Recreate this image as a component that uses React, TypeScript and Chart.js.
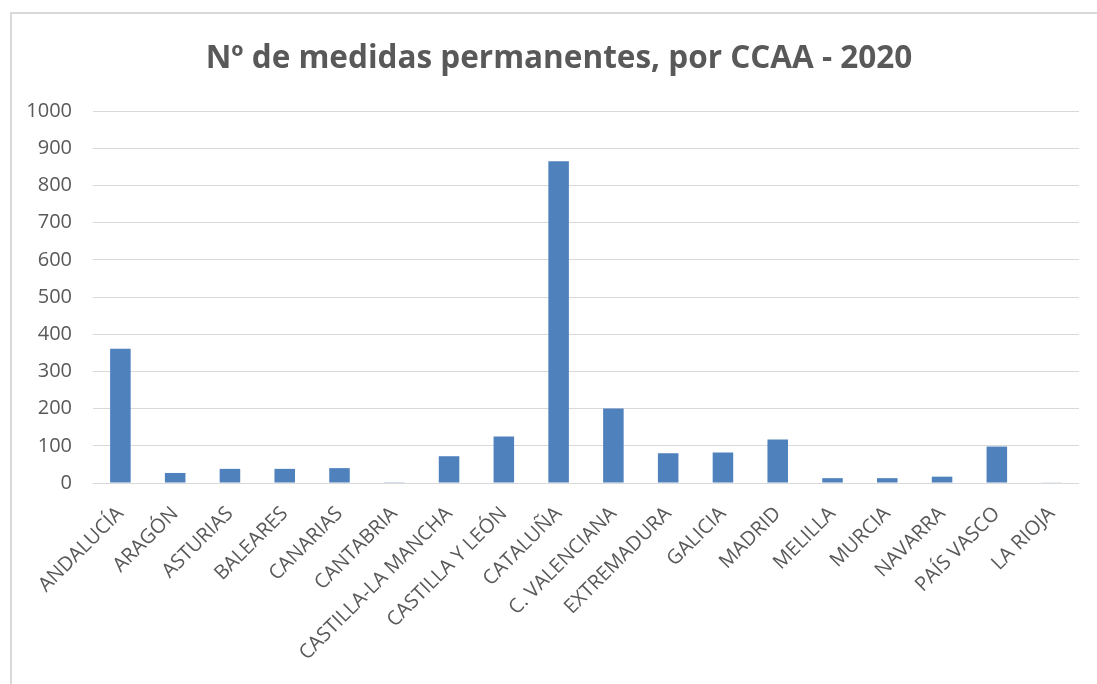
import React, { useEffect, useRef } from "react";
import { Chart, registerables } from "chart.js";

Chart.register(...registerables);

const categories: string[] = [
  "ANDALUCÍA",
  "ARAGÓN",
  "ASTURIAS",
  "BALEARES",
  "CANARIAS",
  "CANTABRIA",
  "CASTILLA-LA MANCHA",
  "CASTILLA Y LEÓN",
  "CATALUÑA",
  "C. VALENCIANA",
  "EXTREMADURA",
  "GALICIA",
  "MADRID",
  "MELILLA",
  "MURCIA",
  "NAVARRA",
  "PAÍS VASCO",
  "LA RIOJA",
];

const medidas: number[] = [361, 27, 38, 38, 40, 2, 72, 125, 865, 200, 80, 82, 117, 13, 13, 17, 98, 1];

const titleText = "Nº de medidas permanentes, por CCAA - 2020";
const yMin = 0;
const yMax = 1000;
const yStep = 100;

const FONT = "'Open Sans', 'DejaVu Sans', sans-serif";
const TEXT = "#595959";
const GRID = "#d9d9d9";
const BAR = "#4f81bd";

const titlePlugin = {
  id: "offsetTitle",
  afterDraw(chart: any) {
    const ctx = chart.ctx as CanvasRenderingContext2D;
    ctx.save();
    ctx.font = `bold 31.5px ${FONT}`;
    ctx.fillStyle = TEXT;
    ctx.textAlign = "center";
    ctx.textBaseline = "middle";
    ctx.fillText(titleText, 559, 59.5);
    ctx.restore();
  },
};

export default function App() {
  const canvasRef = useRef<HTMLCanvasElement | null>(null);

  useEffect(() => {
    const canvas = canvasRef.current;
    if (!canvas) return;
    const chart = new Chart(canvas, {
      type: "bar",
      data: {
        labels: categories,
        datasets: [
          {
            label: "Nº de medidas",
            data: medidas,
            backgroundColor: BAR,
            borderWidth: 0,
            barPercentage: 0.375,
            categoryPercentage: 1,
          },
        ],
      },
      plugins: [titlePlugin],
      options: {
        animation: false,
        responsive: false,
        maintainAspectRatio: false,
        layout: { padding: { left: 0, right: 18, top: 111, bottom: 0 } },
        plugins: {
          legend: { display: false },
          tooltip: { enabled: false },
          title: { display: false },
        },
        scales: {
          x: {
            grid: { display: false, drawTicks: false },
            border: { display: false },
            ticks: {
              color: TEXT,
              font: { family: FONT, size: 20 },
              minRotation: 45,
              maxRotation: 45,
              autoSkip: false,
              padding: 19,
            },
            afterFit: (scale: any) => {
              scale.height = 684 - 483;
            },
          },
          y: {
            min: yMin,
            max: yMax,
            grid: { color: GRID, lineWidth: 1, drawTicks: false },
            border: { display: false },
            ticks: {
              stepSize: yStep,
              color: TEXT,
              font: { family: FONT, size: 20 },
              padding: 21,
              callback: (v: any) => String(v),
            },
            afterFit: (scale: any) => {
              scale.width = 93;
            },
          },
        },
      },
    });
    return () => chart.destroy();
  }, []);

  return (
    <div style={{ position: "fixed", left: 0, top: 0, width: 1097, height: 684, background: "#fff", overflow: "hidden" }}>
      <div
        style={{
          position: "absolute",
          left: 10,
          top: 12,
          width: 1200,
          height: 800,
          borderLeft: "2px solid #d9d9d9",
          borderTop: "2px solid #d9d9d9",
        }}
      />
      <canvas ref={canvasRef} width={1097} height={684} style={{ position: "absolute", left: 0, top: 0 }} />
    </div>
  );
}
